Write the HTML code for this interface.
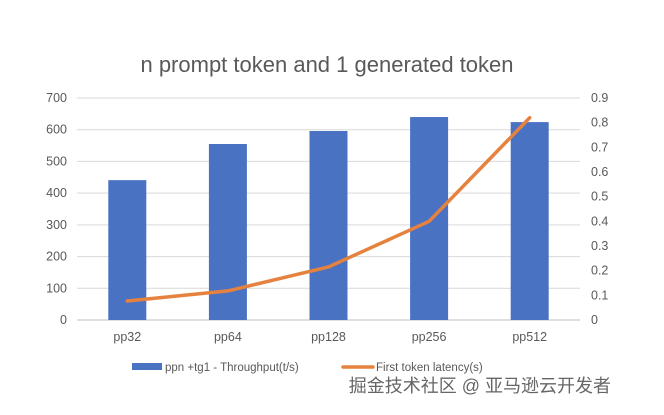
<!DOCTYPE html>
<html><head><meta charset="utf-8"><style>
body{margin:0;background:#fff;width:664px;height:410px;overflow:hidden}
text{font-family:"Liberation Sans","Noto Sans CJK SC",sans-serif}
</style></head><body>
<svg id="chart" width="664" height="410">
<text x="327" y="72" text-anchor="middle" font-size="22" fill="#595959">n prompt token and 1 generated token</text>
<g id="grid"></g><g id="bars"></g><g id="line"></g><g id="axes"></g>
<g>
<rect x="132" y="363" width="30" height="7" fill="#4a72c2"/>
<text x="165" y="371" font-size="11.5" fill="#595959">ppn +tg1 - Throughput(t/s)</text>
<line x1="343" y1="367" x2="373" y2="367" stroke="#e6823f" stroke-width="3.5" stroke-linecap="round"/>
<text x="376" y="371" font-size="11.5" fill="#595959">First token latency(s)</text>
</g>
<text x="611" y="392" text-anchor="end" font-size="18" fill="#666">掘金技术社区 @ 亚马逊云开发者</text>
</svg>
<script>
const categories=["pp32","pp64","pp128","pp256","pp512"];
const throughput=[441,555,596,640,624];
const latency=[0.077,0.118,0.215,0.40,0.82];
const leftTicks=[0,100,200,300,400,500,600,700];
const rightTicks=[0,0.1,0.2,0.3,0.4,0.5,0.6,0.7,0.8,0.9];
const NS="http://www.w3.org/2000/svg";
const X0=77,X1=580,Y0=320,Y1=98;
const band=(X1-X0)/categories.length;
const xc=i=>X0+band*(i+0.5);
const yl=v=>Y0-(v/700)*(Y0-Y1);
const yr=v=>Y0-(v/0.9)*(Y0-Y1);
function mk(tag,attrs,parent,txt){const e=document.createElementNS(NS,tag);for(const k in attrs)e.setAttribute(k,attrs[k]);if(txt!==undefined)e.textContent=txt;document.getElementById(parent).appendChild(e);return e;}
leftTicks.forEach(t=>{
 const g=mk("line",{x1:X0,x2:X1,y1:yl(t),y2:yl(t),stroke:t===0?"#bfbfbf":"#d9d9d9","stroke-width":1},"grid");
 
 
 const l=mk("text",{x:67,y:yl(t)+4,"text-anchor":"end","font-size":12.5,fill:"#595959"},"axes",String(t));
 
 
});
rightTicks.forEach(t=>{
 const l=mk("text",{x:591,y:yr(t)+4,"font-size":12.5,fill:"#595959"},"axes",String(t));
 
 
});
categories.forEach((c,i)=>{
 const b=mk("rect",{x:xc(i)-19,y:yl(throughput[i]),width:38,height:Y0-yl(throughput[i]),fill:"#4a72c2"},"bars");
 
 
 const l=mk("text",{x:xc(i),y:341,"text-anchor":"middle","font-size":12.5,fill:"#595959"},"axes",c);
 
 
});
const pts=latency.map((v,i)=>xc(i)+","+yr(v)).join(" ");
const pl=mk("polyline",{points:pts,fill:"none",stroke:"#e6823f","stroke-width":3.5,"stroke-linejoin":"round","stroke-linecap":"round"},"line");


</script>
</body></html>
